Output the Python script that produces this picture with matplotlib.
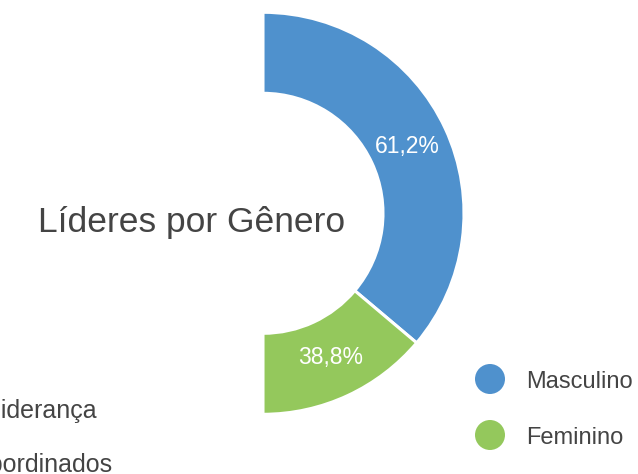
import matplotlib
matplotlib.use("Agg")
import matplotlib.pyplot as plt
from matplotlib.patches import Circle
import numpy as np

plt.rcParams['font.family'] = ['Liberation Sans', 'DejaVu Sans']

# Data
categories = ["Masculino", "Feminino"]
slice_values = [72.3, 27.7]
value_labels = ["61,2%", "38,8%"]    # labels printed on the slices
colors = ["#4f91cd", "#94c85c"]
title = "Líderes por Gênero"
side_labels = ["Liderança", "Subordinados"]

W, H = 638, 474
fig = plt.figure(figsize=(W / 100, H / 100), dpi=100)
ax = fig.add_axes([0, 0, 1, 1])
ax.set_xlim(0, W)
ax.set_ylim(0, H)
ax.set_aspect('equal')
ax.axis('off')

cx, cy = 263, H - 213.3
R_out, R_in = 201, 120
width = R_out - R_in

vals = slice_values + [sum(slice_values)]
wedges, _ = ax.pie(vals, colors=colors + ['none'], startangle=90, counterclock=False,
                   radius=R_out, center=(cx, cy),
                   wedgeprops=dict(width=width, edgecolor='white', linewidth=2.2))
wedges[-1].set_edgecolor('none')
ax.set_xlim(0, W)
ax.set_ylim(0, H)

r_mid = (R_out + R_in) / 2 - 1
for w, lab in zip(wedges[:2], value_labels):
    ang = np.deg2rad((w.theta1 + w.theta2) / 2)
    ax.text(cx + r_mid * np.cos(ang), cy + r_mid * np.sin(ang), lab,
            ha='center', va='center', color='white', fontsize=16.5)

txt_col = '#444444'
ax.text(191.5, H - 232, title, ha='center', va='baseline', fontsize=25.5, color=txt_col)

ax.text(97, H - 418, side_labels[0], ha='right', va='baseline', fontsize=18, color=txt_col)
ax.text(113, H - 472, side_labels[1], ha='right', va='baseline', fontsize=18, color=txt_col)

for i, (name, col) in enumerate(zip(categories, colors)):
    yc = H - (379 + 56 * i)
    ax.add_patch(Circle((490, yc), 15, color=col, lw=0))
    ax.text(526, yc - 8.5, name, ha='left', va='baseline', fontsize=17, color=txt_col)

fig.savefig("out.png", dpi=100)
